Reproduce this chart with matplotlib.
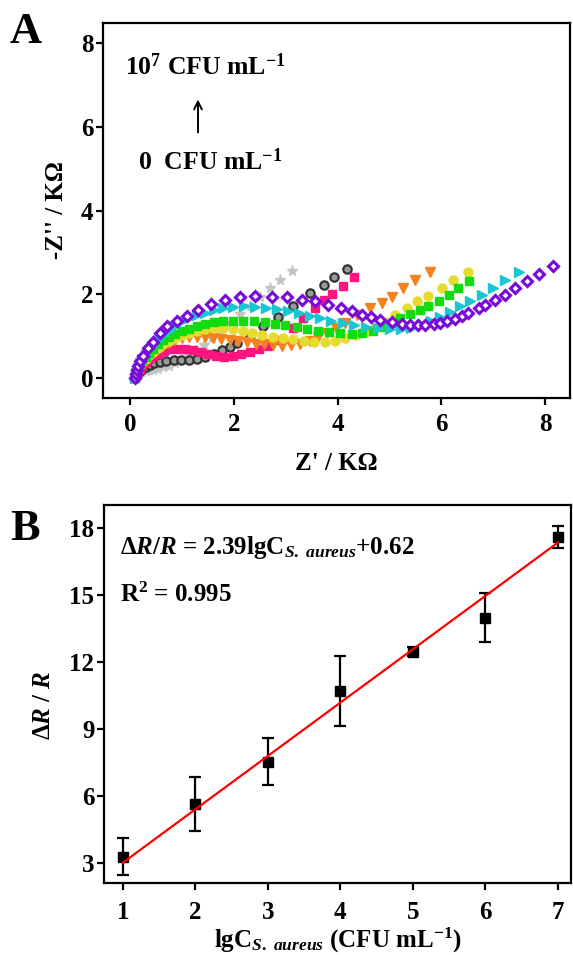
import numpy as np
import matplotlib
matplotlib.use("Agg")
import matplotlib.pyplot as plt

plt.rcParams['font.family'] = ['Liberation Serif', 'DejaVu Serif']
plt.rcParams['font.weight'] = 'bold'
plt.rcParams['mathtext.fontset'] = 'custom'
plt.rcParams['mathtext.rm'] = 'Liberation Serif:bold'
plt.rcParams['mathtext.bf'] = 'Liberation Serif:bold'
plt.rcParams['mathtext.it'] = 'Liberation Serif:italic:bold'
plt.rcParams['mathtext.default'] = 'rm'

# ---------------- Panel A data (Nyquist plots) ----------------
z_gray_x = [0.10,0.12,0.15,0.19,0.24,0.30,0.37,0.45,0.54,0.64,0.75,0.87,1.00,1.13,1.27,1.42,1.58,1.75,1.93,2.12,2.31,2.51,2.70,2.89,3.12]
z_gray_y = [0.00,0.04,0.08,0.11,0.14,0.16,0.18,0.20,0.22,0.25,0.29,0.35,0.43,0.53,0.65,0.79,0.95,1.12,1.32,1.52,1.73,1.94,2.14,2.34,2.56]

z_dark_x = [0.10,0.12,0.15,0.19,0.24,0.30,0.38,0.47,0.58,0.70,0.84,0.98,1.13,1.29,1.45,1.61,1.77,1.93,2.06,2.31,2.57,2.86,3.15,3.47,3.73,3.94,4.18]
z_dark_y = [0.00,0.05,0.12,0.17,0.22,0.27,0.31,0.35,0.38,0.40,0.42,0.42,0.43,0.45,0.50,0.58,0.66,0.75,0.83,1.01,1.23,1.45,1.72,2.04,2.22,2.40,2.60]

z_pink_x = [0.10,0.12,0.15,0.19,0.24,0.30,0.37,0.45,0.55,0.66,0.78,0.92,1.06,1.21,1.36,1.51,1.66,1.82,1.98,2.14,2.31,2.48,2.66,2.89,3.15,3.34,3.57,3.73,3.89,4.10,4.31]
z_pink_y = [0.00,0.08,0.15,0.22,0.29,0.38,0.45,0.52,0.58,0.64,0.68,0.70,0.70,0.67,0.62,0.57,0.53,0.51,0.53,0.57,0.62,0.68,0.76,0.91,1.19,1.43,1.67,1.87,2.01,2.20,2.40]

z_orange_x = [0.10,0.12,0.15,0.19,0.24,0.30,0.37,0.45,0.54,0.64,0.75,0.87,1.00,1.14,1.29,1.44,1.60,1.76,1.92,2.08,2.25,2.42,2.59,2.76,2.93,3.10,3.28,3.46,3.63,3.80,3.97,4.14,4.37,4.63,4.85,5.04,5.27,5.49,5.78]
z_orange_y = [0.00,0.09,0.18,0.27,0.35,0.42,0.50,0.59,0.68,0.77,0.84,0.90,0.95,0.98,0.99,0.98,0.96,0.94,0.91,0.88,0.85,0.82,0.80,0.78,0.77,0.78,0.82,0.88,0.97,1.08,1.20,1.32,1.51,1.67,1.79,1.94,2.14,2.34,2.52]

z_yellow_x = [0.10,0.12,0.15,0.19,0.24,0.30,0.37,0.45,0.54,0.64,0.75,0.87,1.00,1.14,1.29,1.45,1.62,1.80,1.98,2.17,2.36,2.55,2.75,2.95,3.15,3.35,3.55,3.75,3.95,4.15,4.35,4.55,4.73,4.92,5.11,5.33,5.53,5.75,6.01,6.23,6.52]
z_yellow_y = [0.00,0.10,0.20,0.30,0.38,0.45,0.54,0.63,0.72,0.81,0.89,0.96,1.03,1.08,1.13,1.17,1.19,1.19,1.16,1.12,1.07,1.03,0.99,0.95,0.92,0.89,0.87,0.87,0.89,0.95,1.02,1.10,1.20,1.33,1.50,1.67,1.83,1.96,2.14,2.34,2.52]

z_green_x = [0.10,0.12,0.15,0.19,0.24,0.30,0.37,0.45,0.54,0.64,0.75,0.87,1.00,1.14,1.29,1.45,1.62,1.80,1.98,2.17,2.38,2.60,2.80,2.99,3.21,3.42,3.63,3.84,4.05,4.27,4.48,4.68,4.87,5.04,5.20,5.40,5.59,5.75,5.95,6.14,6.33,6.54]
z_green_y = [0.00,0.11,0.22,0.33,0.42,0.50,0.60,0.70,0.80,0.90,0.98,1.05,1.12,1.18,1.24,1.29,1.33,1.36,1.37,1.37,1.36,1.33,1.30,1.26,1.21,1.17,1.13,1.10,1.07,1.06,1.07,1.13,1.22,1.32,1.43,1.52,1.63,1.71,1.83,1.98,2.14,2.32]

z_cyan_x = [0.10,0.12,0.15,0.19,0.24,0.30,0.37,0.45,0.54,0.64,0.75,0.87,1.00,1.14,1.29,1.45,1.62,1.80,1.99,2.19,2.40,2.62,2.84,3.05,3.25,3.47,3.66,3.88,4.10,4.32,4.55,4.78,5.01,5.22,5.42,5.61,5.80,5.98,6.17,6.36,6.56,6.78,7.00,7.23,7.49]
z_cyan_y = [0.00,0.12,0.24,0.36,0.46,0.55,0.66,0.77,0.91,1.03,1.13,1.24,1.35,1.43,1.50,1.56,1.62,1.67,1.70,1.71,1.70,1.68,1.64,1.59,1.54,1.48,1.43,1.37,1.31,1.26,1.22,1.19,1.17,1.17,1.20,1.27,1.35,1.46,1.58,1.71,1.85,1.99,2.15,2.34,2.54]

z_purple_x = [0.10,0.11,0.13,0.16,0.20,0.26,0.35,0.45,0.58,0.72,0.90,1.09,1.32,1.57,1.83,2.12,2.41,2.73,3.03,3.32,3.57,3.82,4.07,4.27,4.47,4.64,4.82,5.04,5.24,5.40,5.55,5.69,5.85,5.98,6.10,6.27,6.40,6.52,6.72,6.85,7.04,7.23,7.42,7.65,7.89,8.16]
z_purple_y = [0.00,0.10,0.20,0.28,0.40,0.52,0.71,0.87,1.07,1.23,1.37,1.48,1.63,1.77,1.87,1.94,1.96,1.94,1.93,1.87,1.83,1.75,1.67,1.60,1.51,1.45,1.39,1.33,1.29,1.27,1.26,1.27,1.29,1.31,1.35,1.40,1.47,1.55,1.67,1.75,1.87,1.98,2.14,2.32,2.48,2.68]

# ---------------- Panel B data (calibration) ----------------
lg_conc = [1, 2, 3, 4, 5, 6, 7]
dR_R = [3.28, 5.64, 7.54, 10.70, 12.46, 13.98, 17.61]
dR_R_err = [0.84, 1.20, 1.06, 1.55, 0.20, 1.10, 0.50]
fit_slope = 2.39
fit_intercept = 0.62

fig = plt.figure(figsize=(5.73, 9.55), dpi=100)
axA = fig.add_axes([0.1798, 0.5832, 0.8150, 0.3927])
axB = fig.add_axes([0.1815, 0.0754, 0.8150, 0.3958])

series = [
    (z_gray_x, z_gray_y, dict(marker='*', color='#c4c4c4', ms=8, mec='#c4c4c4')),
    (z_dark_x, z_dark_y, dict(marker='o', color='#3a3a3a', ms=6, mfc='#9a9a9a', mec='#333333', mew=1.6)),
    (z_pink_x, z_pink_y, dict(marker='s', color='#ff1480', ms=6, mec='#ff1480')),
    (z_orange_x, z_orange_y, dict(marker='v', color='#f58220', ms=7, mec='#f58220')),
    (z_yellow_x, z_yellow_y, dict(marker='o', color='#e6dc30', ms=6.5, mec='#e6dc30')),
    (z_green_x, z_green_y, dict(marker='s', color='#10dc10', ms=6, mec='#10dc10')),
    (z_cyan_x, z_cyan_y, dict(marker='>', color='#1ac6d2', ms=7, mec='#1ac6d2')),
    (z_purple_x, z_purple_y, dict(marker='D', color='#7a0ad8', ms=5.5, mfc='white', mec='#7a0ad8', mew=2.2)),
]
for xs, ys, kw in series:
    axA.plot(xs, ys, linestyle='none', **kw)

axA.set_xlim(-0.52, 8.48)
axA.set_ylim(-0.48, 8.48)
axA.set_xticks([0, 2, 4, 6, 8])
axA.set_yticks([0, 2, 4, 6, 8])
axA.set_xlabel("Z' / K\u03a9", fontsize=18, fontweight='bold')
axA.set_ylabel("-Z'' / K\u03a9", fontsize=18, fontweight='bold')
axA.xaxis.set_label_coords(0.5, -0.145)
axA.yaxis.set_label_coords(-0.075, 0.5)

axA.text(-0.1, 7.23, r"$10^{7}$ CFU mL$^{-1}$", fontsize=18.5, fontweight='bold', va='baseline', ha='left')
axA.text(0.15, 4.96, r"0  CFU mL$^{-1}$", fontsize=18.5, fontweight='bold', va='baseline', ha='left')
axA.annotate('', xy=(1.31, 6.72), xytext=(1.31, 5.8),
             arrowprops=dict(arrowstyle='->', lw=1.4, color='black', mutation_scale=14))

# Panel B
axB.errorbar(lg_conc, dR_R, yerr=dR_R_err, fmt='s', color='black', ms=7,
             ecolor='black', elinewidth=1.6, capsize=4.5, capthick=1.6, zorder=3)
xfit = np.array([lg_conc[0], lg_conc[-1]], dtype=float)
axB.plot(xfit, fit_slope * xfit + fit_intercept, color='#ff0000', lw=1.6, zorder=4)
axB.set_xlim(0.74, 7.18)
axB.set_ylim(2.1, 19.03)
axB.set_xticks(lg_conc)
axB.set_yticks([3, 6, 9, 12, 15, 18])
axB.set_xlabel(r"lgC$_{\mathit{S.\ aureus}}$ (CFU mL$^{-1}$)", fontsize=18, fontweight='bold')
axB.set_ylabel(r"$\Delta\mathit{R}$ / $\mathit{R}$", fontsize=18, fontweight='bold')
axB.xaxis.set_label_coords(0.5, -0.113)
axB.yaxis.set_label_coords(-0.105, 0.47)

axB.text(0.96, 16.84, r"$\Delta\mathit{R}/\mathit{R}$ = 2.39lgC$_{\mathit{S.\ aureus}}$+0.62",
         fontsize=18, fontweight='bold', va='baseline', ha='left')
axB.text(0.96, 14.69, r"R$^{2}$ = 0.995", fontsize=18, fontweight='bold', va='baseline', ha='left')

for ax in (axA, axB):
    for sp in ax.spines.values():
        sp.set_linewidth(1.6)
        sp.set_color('black')
    ax.tick_params(axis='both', which='major', direction='out', length=5, width=1.6,
                   labelsize=18, top=False, right=False)
    ax.tick_params(axis='y', pad=2)
    for lab in ax.get_xticklabels() + ax.get_yticklabels():
        lab.set_fontweight('bold')
axA.tick_params(axis='x', pad=6)
axB.tick_params(axis='x', pad=8)

fig.text(0.0175, 0.955, 'A', fontsize=32, fontweight='bold', va='baseline', ha='left')
fig.text(0.0175, 0.4346, 'B', fontsize=32, fontweight='bold', va='baseline', ha='left')

fig.savefig('out.png', dpi=100)
